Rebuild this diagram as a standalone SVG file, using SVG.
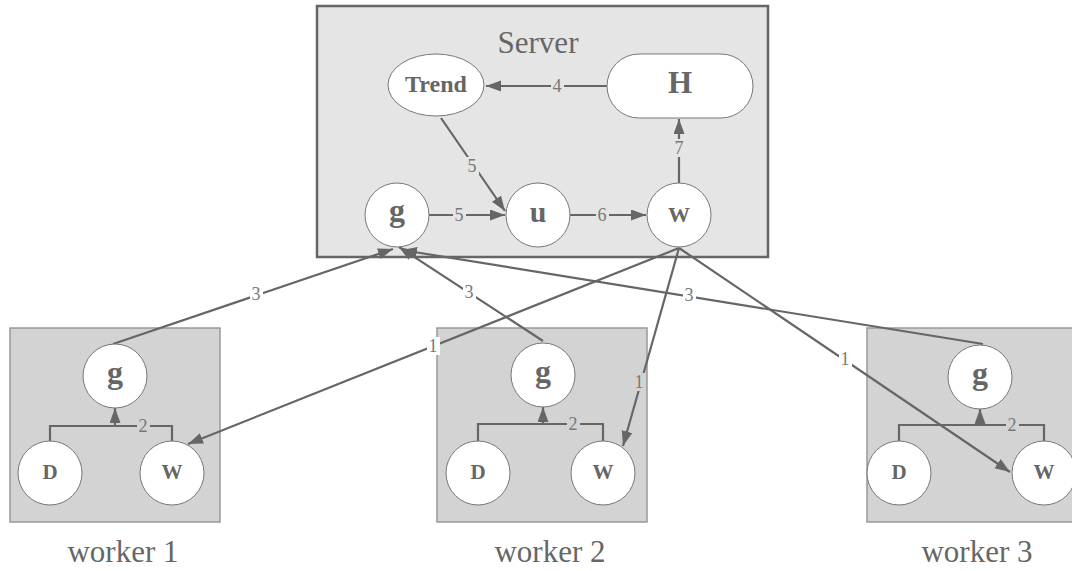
<svg xmlns="http://www.w3.org/2000/svg" width="1072" height="571" viewBox="0 0 1072 571">
<defs>
<marker id="ah" markerUnits="userSpaceOnUse" markerWidth="16" markerHeight="12" refX="15" refY="5.5" orient="auto">
<path d="M0,0 L15,5.5 L0,11 z" fill="#666"/>
</marker>
<style>
.cl{font-family:"Liberation Serif","Times New Roman",serif;fill:#666;text-anchor:middle}
.server{fill:#e5e5e5;stroke:#666;stroke-width:2.5}
.worker{fill:#d3d3d4;stroke:#999;stroke-width:1.5}
.node{fill:#fff;stroke:#777;stroke-width:1}
.nl{font-family:"Liberation Serif","Times New Roman",serif;font-weight:bold;fill:#666;text-anchor:middle}
.e{fill:none;stroke:#666;stroke-width:2.2}
.ea{fill:none;stroke:#666;stroke-width:2.2;marker-end:url(#ah)}
.el{font-family:"Liberation Serif","Times New Roman",serif;font-size:18px;fill:#777;text-anchor:middle}
.bgw{fill:#fff}
.bgs{fill:#e5e5e5}
.bgk{fill:#d3d3d4}
</style>
</defs>
<rect width="1072" height="571" fill="#fff"/>
<g id="cluster-server">
<rect class="server" x="317" y="6" width="451" height="251"/>
<text class="cl" x="538" y="53" font-size="31">Server</text>
</g>
<g id="cluster-worker1">
<rect class="worker" x="10" y="328" width="210" height="194"/>
<text class="cl" x="123" y="562" font-size="31">worker 1</text>
</g>
<g id="cluster-worker2">
<rect class="worker" x="437" y="328" width="210" height="194"/>
<text class="cl" x="550" y="562" font-size="31">worker 2</text>
</g>
<g id="cluster-worker3">
<rect class="worker" x="867" y="328" width="215" height="194"/>
<text class="cl" x="977" y="562" font-size="31">worker 3</text>
</g>
<g id="connectors">
<path class="ea" d="M607,86 H486"/>
<rect class="bgs" x="551" y="77" width="13" height="18"/>
<text class="el" x="557" y="92">4</text>
<path class="ea" d="M441,118 L505,211"/>
<rect class="bgs" x="466" y="157" width="13" height="18"/>
<text class="el" x="472" y="172">5</text>
<path class="ea" d="M429,215 H505"/>
<rect class="bgs" x="453" y="206" width="13" height="18"/>
<text class="el" x="459" y="221">5</text>
<path class="ea" d="M570,215 H646"/>
<rect class="bgs" x="596" y="206" width="13" height="18"/>
<text class="el" x="602" y="221">6</text>
<path class="ea" d="M679,183 V119"/>
<rect class="bgs" x="673" y="139" width="13" height="18"/>
<text class="el" x="679" y="154">7</text>
<path class="ea" d="M113,344 L393,249"/>
<rect class="bgw" x="250" y="285" width="13" height="18"/>
<text class="el" x="256" y="300">3</text>
<path class="ea" d="M543,341 L399,247"/>
<rect class="bgw" x="463" y="283" width="13" height="18"/>
<text class="el" x="469" y="298">3</text>
<path class="ea" d="M983,344 L402,250"/>
<rect class="bgw" x="683" y="286" width="13" height="18"/>
<text class="el" x="689" y="301">3</text>
<path class="ea" d="M679,248 L188,444"/>
<rect class="bgw" x="427" y="337" width="13" height="18"/>
<text class="el" x="433" y="352">1</text>
<path class="ea" d="M679,248 L623,446"/>
<rect class="bgk" x="633" y="373" width="13" height="18"/>
<text class="el" x="639" y="388">1</text>
<path class="ea" d="M679,248 L1010,472"/>
<rect class="bgw" x="839" y="350" width="13" height="18"/>
<text class="el" x="845" y="365">1</text>
<path class="e" d="M50,441 V426 H172 V441"/>
<path class="ea" d="M115,426 V408"/>
<rect class="bgk" x="137" y="417" width="13" height="18"/>
<text class="el" x="143" y="432">2</text>
<path class="e" d="M478,441 V424 H603 V441"/>
<path class="ea" d="M543,424 V407"/>
<rect class="bgk" x="567" y="415" width="13" height="18"/>
<text class="el" x="573" y="430">2</text>
<path class="e" d="M899,441 V425 H1044 V441"/>
<path class="ea" d="M980,425 V409"/>
<rect class="bgk" x="1006" y="416" width="13" height="18"/>
<text class="el" x="1012" y="431">2</text>
</g>
<g id="node-trend">
<ellipse class="node" cx="436" cy="85" rx="48" ry="31"/>
<text class="nl" x="436" y="92" font-size="24">Trend</text>
</g>
<g id="node-H">
<rect class="node" x="607" y="54" width="146" height="64" rx="32" ry="32"/>
<text class="nl" x="680" y="93" font-size="31">H</text>
</g>
<g id="node-server-g">
<circle class="node" cx="397" cy="215" r="32"/>
<text class="nl" x="397" y="221" font-size="32">g</text>
</g>
<g id="node-server-u">
<circle class="node" cx="538" cy="215" r="32"/>
<text class="nl" x="538" y="222" font-size="30">u</text>
</g>
<g id="node-server-W">
<circle class="node" cx="679" cy="215" r="32"/>
<text class="nl" x="679" y="222" font-size="22">W</text>
</g>
<g id="node-w1-g">
<circle class="node" cx="115" cy="376" r="32"/>
<text class="nl" x="115" y="383" font-size="32">g</text>
</g>
<g id="node-w1-D">
<circle class="node" cx="50" cy="473" r="32"/>
<text class="nl" x="50" y="479" font-size="21">D</text>
</g>
<g id="node-w1-W">
<circle class="node" cx="172" cy="473" r="32"/>
<text class="nl" x="172" y="479" font-size="21">W</text>
</g>
<g id="node-w2-g">
<circle class="node" cx="543" cy="375" r="32"/>
<text class="nl" x="543" y="382" font-size="32">g</text>
</g>
<g id="node-w2-D">
<circle class="node" cx="478" cy="473" r="32"/>
<text class="nl" x="478" y="479" font-size="21">D</text>
</g>
<g id="node-w2-W">
<circle class="node" cx="603" cy="473" r="32"/>
<text class="nl" x="603" y="479" font-size="21">W</text>
</g>
<g id="node-w3-g">
<circle class="node" cx="980" cy="377" r="32"/>
<text class="nl" x="980" y="384" font-size="32">g</text>
</g>
<g id="node-w3-D">
<circle class="node" cx="899" cy="473" r="32"/>
<text class="nl" x="899" y="479" font-size="21">D</text>
</g>
<g id="node-w3-W">
<circle class="node" cx="1044" cy="473" r="32"/>
<text class="nl" x="1044" y="479" font-size="21">W</text>
</g>
</svg>
